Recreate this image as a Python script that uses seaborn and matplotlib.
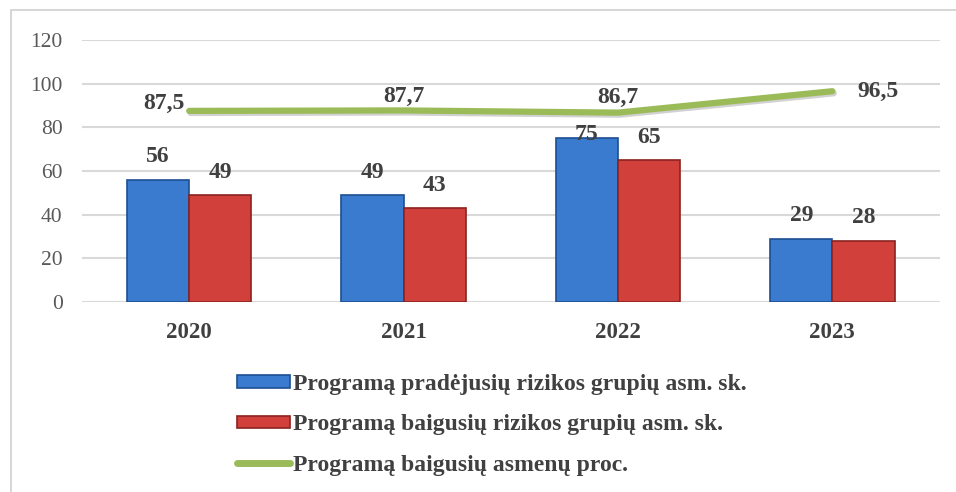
import numpy as np
import pandas as pd
import seaborn as sns
import matplotlib.pyplot as plt
import matplotlib.patheffects as pe
from matplotlib.patches import Rectangle
from matplotlib.lines import Line2D

# 数据
years = ["2020", "2021", "2022", "2023"]
pradejusiu = [56, 49, 75, 29]
baigusiu = [49, 43, 65, 28]
procentai = [87.5, 87.7, 86.7, 96.5]
proc_labels = ["87,5", "87,7", "86,7", "96,5"]

ser_names = ["Programą pradėjusių rizikos grupių asm. sk.",
             "Programą baigusių rizikos grupių asm. sk."]
line_name = "Programą baigusių asmenų proc."

df = pd.DataFrame({
    "metai": years * 2,
    "reiksme": pradejusiu + baigusiu,
    "serija": [ser_names[0]] * 4 + [ser_names[1]] * 4,
})

sns.set_theme(style="white")
plt.rcParams['font.family'] = ['Liberation Serif', 'DejaVu Serif']

fig = plt.figure(figsize=(9.56, 4.92), dpi=100)
ax = fig.add_axes([0.0858, 0.386, 0.897, 0.533])

# 外框
fig.patches.append(Rectangle((0.011, -0.01), 0.99, 0.99, transform=fig.transFigure,
                             fill=False, edgecolor="#d0d0d0", linewidth=1.2))

sns.barplot(data=df, x="metai", y="reiksme", hue="serija", ax=ax,
            palette=["#3a7bd0", "#d2403c"], width=0.58, gap=0,
            edgecolor="none", linewidth=0, saturation=1)
bar_edges = ["#1d4f91", "#8a2320"]
for i, (cont, ec) in enumerate(zip(ax.containers, bar_edges)):
    for b in cont:
        b.set_edgecolor(ec)
        b.set_linewidth(1.2)
    texts = ax.bar_label(cont, fontsize=17, fontweight="bold", color="#404040", padding=9)
    # 2022 蓝柱标签被折线挡住，往下挪
    if i == 0:
        texts[2].xyann = (0, -5)
handles = list(ax.containers)
ax.legend_.remove()

x = np.arange(len(years))
ax.plot(x, procentai, color="#9bbb59", linewidth=4.5, solid_capstyle="round", zorder=4,
        path_effects=[pe.SimpleLineShadow(offset=(1, -1.5), alpha=0.2), pe.Normal()])

# 折线标签位置
offsets = [(-3, 5), (0, 10), (0, 11), (18, 0)]
aligns = ["right", "center", "center", "left"]
for xi, yi, lab, off, ha in zip(x, procentai, proc_labels, offsets, aligns):
    ax.annotate(lab, (xi, yi), xytext=off, textcoords="offset points",
                ha=ha, va="center", fontsize=17, fontweight="bold", color="#404040")

ax.set_ylim(0, 120)
ax.set_yticks(range(0, 121, 20))
ax.set_xlim(-0.5, 3.5)
ax.grid(axis="y", color="#d9d9d9", linewidth=1.5)
ax.set_axisbelow(True)
sns.despine(ax=ax, left=True, bottom=True)
ax.set_xlabel("")
ax.set_ylabel("")
ax.tick_params(axis="y", length=0, pad=14, labelsize=15.5, labelcolor="#595959")
ax.tick_params(axis="x", length=0, pad=14, labelsize=16.5, labelcolor="#404040")
for t in ax.get_xticklabels():
    t.set_fontweight("bold")

line_handle = Line2D([], [], color="#9bbb59", linewidth=5, solid_capstyle="round")
fig.legend(handles + [line_handle], ser_names + [line_name],
           loc="upper left", bbox_to_anchor=(0.226, 0.283), frameon=False,
           prop={"size": 17, "weight": "bold"}, labelcolor="#404040",
           handlelength=2.25, handleheight=0.45, handletextpad=0.1, labelspacing=0.82)

plt.savefig("out.png", dpi=100)
